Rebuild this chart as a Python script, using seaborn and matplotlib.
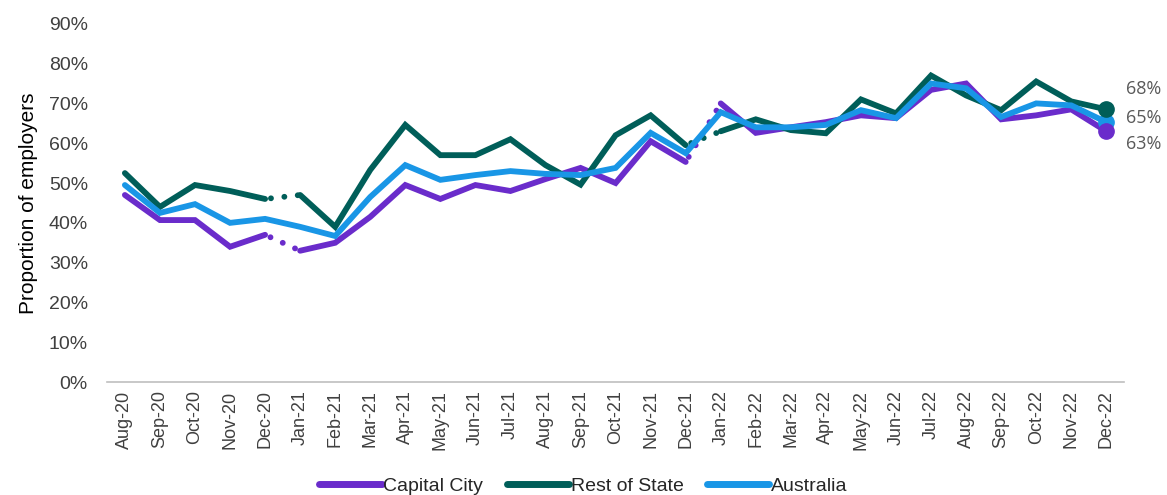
import numpy as np
import pandas as pd
import seaborn as sns
import matplotlib.pyplot as plt
from matplotlib.lines import Line2D

months = ['Aug-20', 'Sep-20', 'Oct-20', 'Nov-20', 'Dec-20', 'Jan-21', 'Feb-21', 'Mar-21',
          'Apr-21', 'May-21', 'Jun-21', 'Jul-21', 'Aug-21', 'Sep-21', 'Oct-21', 'Nov-21',
          'Dec-21', 'Jan-22', 'Feb-22', 'Mar-22', 'Apr-22', 'May-22', 'Jun-22', 'Jul-22',
          'Aug-22', 'Sep-22', 'Oct-22', 'Nov-22', 'Dec-22']

capital_city = [47.0, 40.7, 40.7, 34.0, 37.0, 33.0, 35.0, 41.5, 49.5, 46.0, 49.5, 48.0,
                51.0, 53.8, 50.0, 60.5, 55.3, 70.0, 62.6, 64.0, 65.3, 67.0, 66.3, 73.4,
                75.0, 66.0, 67.0, 68.5, 63.0]
rest_of_state = [52.5, 44.0, 49.5, 48.0, 46.0, 47.0, 39.0, 53.3, 64.6, 57.0, 57.0, 61.0,
                 54.5, 49.6, 62.0, 67.0, 59.5, 63.0, 66.0, 63.3, 62.5, 71.0, 67.5, 77.0,
                 72.0, 68.3, 75.5, 70.5, 68.5]
australia = [49.5, 42.5, 44.7, 40.0, 41.0, 39.0, 36.7, 46.5, 54.5, 50.8, 52.0, 53.0,
             52.3, 52.0, 53.8, 62.6, 57.5, 67.8, 64.0, 64.0, 64.6, 68.3, 66.3, 75.0,
             73.8, 66.6, 70.0, 69.5, 65.3]

# series breaks (dotted connector between these month indices)
breaks = [(4, 5), (16, 17)]

series = {
    'Capital City': (capital_city, '#6a2ccb', True),
    'Rest of State': (rest_of_state, '#005e59', True),
    'Australia': (australia, '#1996e6', False),
}
end_labels = {'Capital City': '63%', 'Rest of State': '68%', 'Australia': '65%'}
label_offsets = {'Capital City': -9.5, 'Rest of State': 14.5, 'Australia': 3}

sns.set_style('white')
plt.rcParams['font.family'] = ['Liberation Sans', 'DejaVu Sans']

fig, ax = plt.subplots(figsize=(11.67, 4.95), dpi=100)
fig.subplots_adjust(left=0.092, right=0.963, top=0.952, bottom=0.228)

x = np.arange(len(months))
lw = 4.2
for name, (vals, color, has_breaks) in series.items():
    df = pd.DataFrame({'x': x, 'y': vals})
    if has_breaks:
        cuts = [0] + [b[1] for b in breaks] + [len(months)]
        for a, b in zip(cuts[:-1], cuts[1:]):
            sub = df.iloc[a:b]
            sns.lineplot(data=sub, x='x', y='y', ax=ax, color=color, lw=lw,
                         solid_capstyle='round', solid_joinstyle='miter')
        for a, b in breaks:
            sub = df.iloc[a:b + 1]
            sns.lineplot(data=sub, x='x', y='y', ax=ax, color=color, lw=lw,
                         linestyle=(1.3, (0.01, 2.3)), dash_capstyle='round')
    else:
        sns.lineplot(data=df, x='x', y='y', ax=ax, color=color, lw=lw,
                     solid_capstyle='round', solid_joinstyle='miter')

# end markers and labels
for name in ['Australia', 'Capital City', 'Rest of State']:
    vals, color, _ = series[name]
    ax.plot(x[-1], vals[-1], 'o', color=color, ms=11, zorder=5)
for name, (vals, color, _) in series.items():
    ax.annotate(end_labels[name], (x[-1], vals[-1]), xytext=(14, label_offsets[name]),
                textcoords='offset points', ha='left', va='center',
                fontsize=13, color='#595959', family='Open Sans')

ax.set_xlim(-0.5, len(months) - 0.5)
ax.set_ylim(0, 90)
ax.set_yticks(np.arange(0, 91, 10))
ax.set_yticklabels([f'{v}%' for v in range(0, 91, 10)], fontsize=14, color='#404040')
ax.set_xticks(x)
ax.set_xticklabels(months, rotation=90, fontsize=13, color='#404040')
ax.set_xticks(np.arange(-0.5, len(months), 1), minor=True)
ax.tick_params(axis='x', which='major', length=0, pad=6)
ax.tick_params(axis='x', which='minor', length=5, color='#bfbfbf', width=1)
ax.tick_params(axis='y', length=0, pad=14)
ax.set_xlabel('')
ax.set_ylabel('Proportion of employers', fontsize=15, color='#000000', labelpad=8)
for s in ['top', 'right', 'left']:
    ax.spines[s].set_visible(False)
ax.spines['bottom'].set_color('#bfbfbf')
ax.spines['bottom'].set_linewidth(1.2)

handles = [Line2D([0], [0], color=c, lw=5, solid_capstyle='round')
           for _, (_, c, _) in series.items()]
fig.legend(handles, list(series.keys()), loc='lower center', ncol=3, frameon=False,
           fontsize=14, bbox_to_anchor=(0.5, -0.035), handlelength=3.2,
           handletextpad=0.1, columnspacing=1.2)

fig.savefig('out.png', dpi=100)
